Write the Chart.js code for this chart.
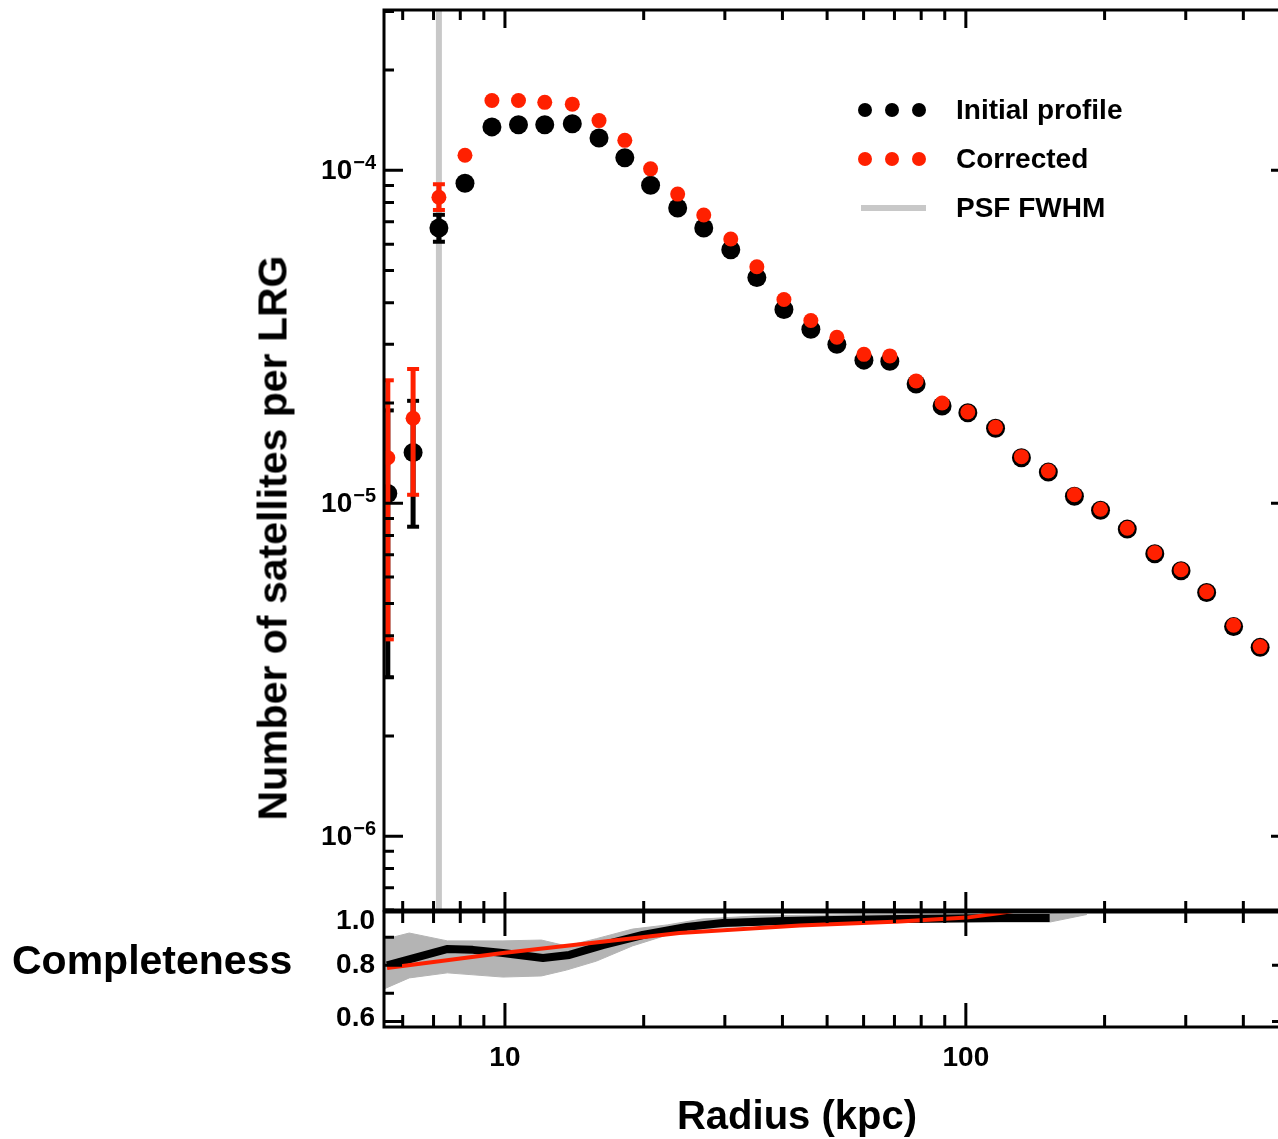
<!DOCTYPE html>
<html lang="en">
<head>
<meta charset="UTF-8">
<title>Satellite radial profile around LRGs</title>
<script src="https://cdn.jsdelivr.net/npm/chart.js"></script>
<style>
  html, body { margin: 0; padding: 0; overflow: hidden; background: #fff; }
  #wrap { position: relative; width: 1300px; height: 1139px; }
  canvas { position: absolute; left: 0; }
  #profile { top: 0; }
  #complete { top: 900px; }
  .title { position: absolute; font: bold 41px "Liberation Sans", Arial, sans-serif; line-height: 1; color: #000; white-space: nowrap; }
  #ytitle { left: 273px; top: 538px; transform: translate(-50%, -50%) rotate(-90deg); }
  #ctitle { left: 12px; top: 960px; transform: translateY(-50%); }
  #xtitle { left: 797px; top: 1115px; transform: translate(-50%, -50%); font-size: 40px; }
</style>
</head>
<body>
<div id="wrap">
  <canvas id="profile" width="1300" height="920"></canvas>
  <canvas id="complete" width="1300" height="239"></canvas>
  <div class="title" id="ytitle">Number of satellites per LRG</div>
  <div class="title" id="ctitle">Completeness</div>
  <div class="title" id="xtitle">Radius (kpc)</div>
</div>

<script>
  // radial bins (kpc) and satellite counts per LRG
  const radius = [5.57, 6.32, 7.19, 8.19, 9.37, 10.7, 12.2, 14.0, 16.0, 18.2, 20.7, 23.7,
    27.0, 30.9, 35.2, 40.3, 46.1, 52.5, 60.1, 68.4, 78.0, 88.8, 101, 116, 132, 151,
    172, 196, 224, 257, 293, 333, 381, 435];
  const initialProfile = [1.07e-5, 1.42e-5, 6.71e-5, 9.14e-5, 1.35e-4, 1.37e-4, 1.37e-4, 1.38e-4,
    1.25e-4, 1.09e-4, 9.02e-5, 7.70e-5, 6.71e-5, 5.77e-5, 4.76e-5, 3.82e-5, 3.33e-5, 3.00e-5,
    2.69e-5, 2.67e-5, 2.28e-5, 1.96e-5, 1.87e-5, 1.68e-5, 1.37e-5, 1.24e-5, 1.05e-5, 9.53e-6,
    8.36e-6, 7.05e-6, 6.27e-6, 5.39e-6, 4.26e-6, 3.69e-6];
  const corrected = [1.37e-5, 1.80e-5, 8.30e-5, 1.11e-4, 1.62e-4, 1.62e-4, 1.60e-4, 1.58e-4,
    1.41e-4, 1.23e-4, 1.01e-4, 8.48e-5, 7.34e-5, 6.22e-5, 5.13e-5, 4.09e-5, 3.54e-5, 3.15e-5,
    2.80e-5, 2.77e-5, 2.33e-5, 2.00e-5, 1.88e-5, 1.69e-5, 1.38e-5, 1.25e-5, 1.06e-5, 9.59e-6,
    8.41e-6, 7.10e-6, 6.31e-6, 5.42e-6, 4.30e-6, 3.71e-6];

  // visible error bars (inner bins only)
  const errRadius = [5.57, 6.32, 7.19];
  const initialLow = [3.0e-6, 8.5e-6, 6.1e-5];
  const initialHigh = [1.9e-5, 2.03e-5, 7.35e-5];
  const correctedLow = [3.9e-6, 1.06e-5, 7.6e-5];
  const correctedHigh = [2.34e-5, 2.53e-5, 9.08e-5];

  const psfFwhm = 7.19;

  // completeness panel
  const compRadius = [5.55, 7.48, 8.52, 9.9, 12.09, 13.8, 16.3, 19.9, 24.8, 29.7, 40.1, 48.2, 71.9, 118.6, 152];
  const completeness = [0.80, 0.858, 0.855, 0.844, 0.826, 0.837, 0.872, 0.908, 0.937, 0.951, 0.958, 0.961, 0.965, 0.969, 0.969];
  const fitRadius = [5.55, 9.9, 23.9, 43.6, 71.9, 100.5, 118.6, 130.8];
  const completenessFit = [0.790, 0.844, 0.915, 0.942, 0.956, 0.970, 0.986, 0.997];
  const bandRadius = [5.4, 6.2, 7.5, 9.9, 12.0, 13.6, 15.8, 18.9, 22.5, 26.8, 35, 50, 80, 152, 183];
  const bandUpper = [0.890, 0.915, 0.887, 0.887, 0.890, 0.869, 0.895, 0.929, 0.944, 0.965, 0.976, 0.979, 0.983, 0.983, 0.981];
  const bandLower = [0.712, 0.755, 0.773, 0.758, 0.762, 0.783, 0.815, 0.869, 0.908, 0.929, 0.944, 0.951, 0.954, 0.954, 0.981];

  // ticks
  const xMajorTicks = [10, 100];
  const xTickLabels = ['10', '100'];
  const xMinorTicks = [6, 7, 8, 9, 20, 30, 40, 50, 60, 70, 80, 90, 200, 300, 400, 500];
  const yMajorTicks = [1e-6, 1e-5, 1e-4];
  const yTickExponents = ['\u22126', '\u22125', '\u22124'];
  const yMinorTicks = [];
  [1e-7, 1e-6, 1e-5, 1e-4].forEach(d => [2, 3, 4, 5, 6, 7, 8, 9].forEach(m => yMinorTicks.push(m * d)));
  const cMajorTicks = [0.6, 0.8, 1.0];
  const cTickLabels = ['0.6', '0.8', '1.0'];
  const cMinorTicks = [0.7, 0.9];

  const legendLabels = ['Initial profile', 'Corrected', 'PSF FWHM'];

  const RED = '#ff2000';
  const GRAY = '#c8c8c8';
  const FONT = '"Liberation Sans", Arial, sans-serif';

  const pts = (xs, ys) => xs.map((x, i) => ({ x, y: ys[i] }));

  // IDL-style box with inward ticks on all four sides
  function boxTicks(t) {
    return {
      id: 'boxTicks',
      afterDraw(chart) {
        const { ctx, chartArea: a, scales: { x, y } } = chart;
        ctx.save();
        ctx.strokeStyle = '#000';
        ctx.lineWidth = 3;
        ctx.beginPath();
        const xt = (vals, top, bot) => vals.forEach(v => {
          const px = x.getPixelForValue(v);
          if (px < a.left || px > a.right) return;
          ctx.moveTo(px, a.top); ctx.lineTo(px, a.top + top);
          ctx.moveTo(px, a.bottom); ctx.lineTo(px, a.bottom - bot);
        });
        const yt = (vals, len) => vals.forEach(v => {
          const py = y.getPixelForValue(v);
          if (py < a.top || py > a.bottom) return;
          ctx.moveTo(a.left, py); ctx.lineTo(a.left + len, py);
          ctx.moveTo(a.right, py); ctx.lineTo(a.right - len, py);
        });
        xt(xMajorTicks, t.xTopMajor, t.xBotMajor);
        xt(xMinorTicks, t.xTopMinor, t.xBotMinor);
        yt(t.yMajor, t.yMajorLen);
        yt(t.yMinor, t.yMinorLen);
        ctx.stroke();
        ctx.strokeRect(a.left, a.top, a.right - a.left, a.bottom - a.top);
        ctx.restore();
      }
    };
  }

  const profileLabels = {
    id: 'profileLabels',
    afterDraw(chart) {
      const { ctx, scales: { y } } = chart;
      ctx.save();
      ctx.fillStyle = '#000';
      ctx.textBaseline = 'middle';
      ctx.textAlign = 'right';
      yMajorTicks.forEach((v, i) => {
        const py = y.getPixelForValue(v);
        ctx.font = 'bold 20px ' + FONT;
        const w = ctx.measureText(yTickExponents[i]).width;
        ctx.fillText(yTickExponents[i], 376, py - 7);
        ctx.font = 'bold 28px ' + FONT;
        ctx.fillText('10', 376 - w - 1, py + 1);
      });
      // legend
      const rows = [110, 159, 208];
      const dotX = [865, 892, 919];
      [ '#000', RED ].forEach((c, r) => {
        ctx.fillStyle = c;
        dotX.forEach(dx => { ctx.beginPath(); ctx.arc(dx, rows[r], 7, 0, Math.PI * 2); ctx.fill(); });
      });
      ctx.strokeStyle = GRAY;
      ctx.lineWidth = 6;
      ctx.beginPath(); ctx.moveTo(861, rows[2]); ctx.lineTo(926, rows[2]); ctx.stroke();
      ctx.fillStyle = '#000';
      ctx.textAlign = 'left';
      ctx.font = 'bold 28px ' + FONT;
      legendLabels.forEach((l, i) => ctx.fillText(l, 956, rows[i] + 1));
      ctx.restore();
    }
  };

  const completeLabels = {
    id: 'completeLabels',
    afterDraw(chart) {
      const { ctx, chartArea: a, scales: { x, y } } = chart;
      ctx.save();
      ctx.fillStyle = '#000';
      ctx.font = 'bold 28px ' + FONT;
      ctx.textBaseline = 'middle';
      ctx.textAlign = 'right';
      cMajorTicks.forEach((v, i) => {
        const py = Math.min(Math.max(y.getPixelForValue(v), a.top + 9), a.bottom - 9);
        ctx.fillText(cTickLabels[i], 375, py);
      });
      ctx.textAlign = 'center';
      xMajorTicks.forEach((v, i) => ctx.fillText(xTickLabels[i], x.getPixelForValue(v), a.bottom + 31));
      ctx.restore();
    }
  };

  // main profile panel
  const profileSets = [];
  profileSets.push({
    data: [{ x: psfFwhm, y: 1e-7 }, { x: psfFwhm, y: 1e-3 }],
    showLine: true, borderColor: GRAY, borderWidth: 6, pointRadius: 0, order: 10, clip: 0
  });
  errRadius.forEach((r, i) => {
    profileSets.push({
      data: [{ x: r, y: initialLow[i] }, { x: r, y: initialHigh[i] }],
      showLine: true, borderColor: '#000', borderWidth: 5,
      pointStyle: 'line', pointRadius: 6, pointBorderWidth: 4, pointBorderColor: '#000',
      order: 8, clip: 0
    });
    profileSets.push({
      data: [{ x: r, y: correctedLow[i] }, { x: r, y: correctedHigh[i] }],
      showLine: true, borderColor: RED, borderWidth: 5,
      pointStyle: 'line', pointRadius: 6, pointBorderWidth: 4, pointBorderColor: RED,
      order: 6, clip: 0
    });
  });
  profileSets.push({
    label: legendLabels[0], data: pts(radius, initialProfile),
    pointRadius: 9.5, pointBackgroundColor: '#000', pointBorderWidth: 0, order: 7, clip: 0
  });
  profileSets.push({
    label: legendLabels[1], data: pts(radius, corrected),
    pointRadius: 7.5, pointBackgroundColor: RED, pointBorderWidth: 0, order: 5, clip: 0
  });

  new Chart(document.getElementById('profile'), {
    type: 'scatter',
    data: { datasets: profileSets },
    options: {
      responsive: false,
      animation: false,
      layout: { padding: { left: 384, top: 7, right: 10, bottom: 8 } },
      plugins: { legend: { display: false }, tooltip: { enabled: false } },
      scales: {
        x: { type: 'logarithmic', min: 5.465, max: 505, display: false },
        y: { type: 'logarithmic', min: 6e-7, max: 3.03e-4, display: false }
      }
    },
    plugins: [boxTicks({
      xTopMajor: 18, xTopMinor: 10, xBotMajor: 18, xBotMinor: 9,
      yMajor: yMajorTicks, yMinor: yMinorTicks, yMajorLen: 19, yMinorLen: 10
    }), profileLabels]
  });

  // completeness panel
  new Chart(document.getElementById('complete'), {
    type: 'scatter',
    data: {
      datasets: [
        { data: pts(bandRadius, bandUpper), showLine: true, borderColor: '#b4b4b4', borderWidth: 1,
          pointRadius: 0, fill: '+1', backgroundColor: '#b4b4b4', order: 3, clip: 0 },
        { data: pts(bandRadius, bandLower), showLine: true, borderColor: '#b4b4b4', borderWidth: 1,
          pointRadius: 0, fill: false, order: 3, clip: 0 },
        { data: pts(compRadius, completeness), showLine: true, borderColor: '#000', borderWidth: 8,
          borderJoinStyle: 'round', pointRadius: 0, order: 2, clip: 0 },
        { data: pts(fitRadius, completenessFit), showLine: true, borderColor: RED, borderWidth: 4,
          pointRadius: 0, order: 1, clip: 0 }
      ]
    },
    options: {
      responsive: false,
      animation: false,
      layout: { padding: { left: 384, top: 12, right: 10, bottom: 112 } },
      plugins: { legend: { display: false }, tooltip: { enabled: false } },
      scales: {
        x: { type: 'logarithmic', min: 5.465, max: 505, display: false },
        y: { type: 'linear', min: 0.58, max: 0.99, display: false }
      }
    },
    plugins: [boxTicks({
      xTopMajor: 24, xTopMinor: 11, xBotMajor: 24, xBotMinor: 12,
      yMajor: cMajorTicks, yMinor: cMinorTicks, yMajorLen: 18, yMinorLen: 10
    }), completeLabels]
  });
</script>
</body>
</html>
